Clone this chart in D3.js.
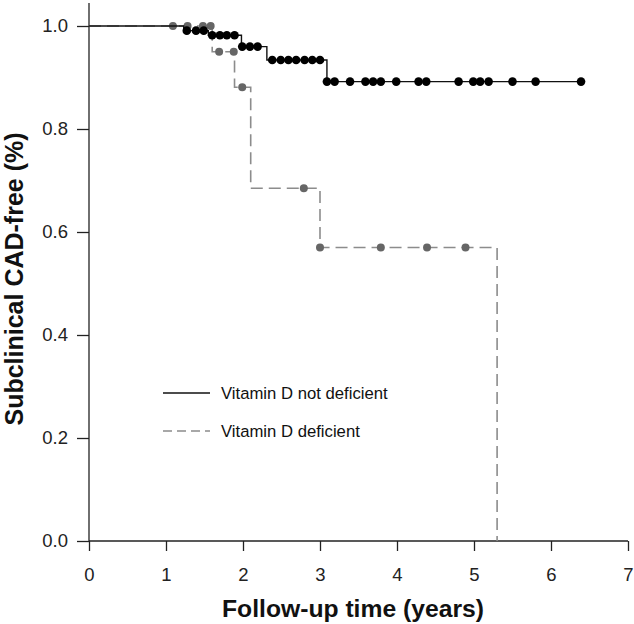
<!DOCTYPE html>
<html>
<head>
<meta charset="utf-8">
<script src="https://cdn.jsdelivr.net/npm/d3@7"></script>
<style>
  html, body { margin: 0; padding: 0; background: #fff; }
  svg { display: block; font-family: "Liberation Sans", Arial, sans-serif; }
</style>
</head>
<body>
<svg id="chart" width="634" height="624"></svg>
<script>
// ---- Data ----
const xTicks = [0, 1, 2, 3, 4, 5, 6, 7];
const yTicks = [0.0, 0.2, 0.4, 0.6, 0.8, 1.0];

// Vitamin D not deficient (solid black)
const notDefStepTimes = [0, 1.23, 1.55, 1.98, 2.31, 3.09];
const notDefStepSurv  = [1.0, 0.991, 0.982, 0.96, 0.934, 0.892];
const notDefEndTime = 6.39;
const notDefCensorTimes = [1.27, 1.39, 1.49, 1.60, 1.70, 1.79, 1.89, 1.99, 2.09, 2.19,
  2.38, 2.49, 2.59, 2.69, 2.80, 2.90, 3.00,
  3.09, 3.19, 3.39, 3.59, 3.69, 3.79, 3.99, 4.28, 4.38, 4.80, 4.99, 5.08, 5.19, 5.50, 5.80, 6.39];

// Vitamin D deficient (dashed gray)
const defStepTimes = [0, 1.60, 1.89, 2.10, 3.00, 5.30];
const defStepSurv  = [1.0, 0.95, 0.881, 0.685, 0.57, 0.0];
const defEndTime = 5.30;
const defCensorTimes = [1.09, 1.28, 1.48, 1.58, 1.69, 1.88, 1.99, 2.79, 3.00, 3.79, 4.39, 4.89];

const legendLabels = ["Vitamin D not deficient", "Vitamin D deficient"];

// ---- Helpers ----
function survivalAt(times, surv, t) {
  let s = surv[0];
  for (let i = 0; i < times.length; i++) if (times[i] <= t + 1e-9) s = surv[i];
  return s;
}
function stepPoints(times, surv, endT) {
  const pts = times.map((t, i) => [t, surv[i]]);
  pts.push([endT, surv[surv.length - 1]]);
  return pts;
}

// ---- Layout ----
const svg = d3.select("#chart");
const x = d3.scaleLinear().domain([0, 7]).range([89, 628]);
const y = d3.scaleLinear().domain([0, 1]).range([541, 26]);

const axisColor = "#222";

// Y axis
const yAxis = svg.append("g").attr("transform", "translate(89,0)")
  .call(d3.axisLeft(y).tickValues(yTicks).tickFormat(d3.format(".1f")).tickSize(12).tickSizeOuter(0));
yAxis.select(".domain").remove();
yAxis.selectAll(".tick line").attr("stroke", axisColor).attr("stroke-width", 1.3);
yAxis.selectAll(".tick text").attr("font-size", 18.5).attr("fill", axisColor)
  .attr("x", -21).attr("font-family", "Liberation Sans, Arial, sans-serif");
svg.append("line").attr("x1", 89).attr("x2", 89).attr("y1", 3).attr("y2", y(0))
  .attr("stroke", axisColor).attr("stroke-width", 1.3);

// X axis
const xAxis = svg.append("g").attr("transform", `translate(0,${y(0)})`)
  .call(d3.axisBottom(x).tickValues(xTicks).tickFormat(d3.format("d")).tickSize(10).tickSizeOuter(0));
xAxis.select(".domain").remove();
xAxis.selectAll(".tick line").attr("stroke", axisColor).attr("stroke-width", 1.3);
xAxis.selectAll(".tick text").attr("font-size", 18.5).attr("fill", axisColor)
  .attr("y", 27).attr("font-family", "Liberation Sans, Arial, sans-serif");
svg.append("line").attr("x1", 89).attr("x2", x(7)).attr("y1", y(0)).attr("y2", y(0))
  .attr("stroke", axisColor).attr("stroke-width", 1.3);

// Axis titles
svg.append("text").attr("x", 353).attr("y", 617).attr("text-anchor", "middle")
  .attr("font-size", 24.7).attr("font-weight", "bold").attr("fill", "#111")
  .text("Follow-up time (years)");
svg.append("text").attr("transform", "translate(23,279) rotate(-90)").attr("text-anchor", "middle")
  .attr("font-size", 25).attr("font-weight", "bold").attr("fill", "#111")
  .text("Subclinical CAD-free (%)");

const line = d3.line().x(d => x(d[0])).y(d => y(d[1])).curve(d3.curveStepAfter);

// Deficient curve (gray dashed)
svg.append("path").datum(stepPoints(defStepTimes, defStepSurv, defEndTime))
  .attr("d", line).attr("fill", "none").attr("stroke", "#8c8c8c")
  .attr("stroke-width", 1.6).attr("stroke-dasharray", "12,6");
svg.append("g").selectAll("circle").data(defCensorTimes).join("circle")
  .attr("cx", d => x(d)).attr("cy", d => y(survivalAt(defStepTimes, defStepSurv, d)))
  .attr("r", 4).attr("fill", "#666");

// Not deficient curve (solid black)
svg.append("path").datum(stepPoints(notDefStepTimes, notDefStepSurv, notDefEndTime))
  .attr("d", line).attr("fill", "none").attr("stroke", "#111").attr("stroke-width", 1.4);
svg.append("g").selectAll("circle").data(notDefCensorTimes).join("circle")
  .attr("cx", d => x(d)).attr("cy", d => y(survivalAt(notDefStepTimes, notDefStepSurv, d)))
  .attr("r", 4.3).attr("fill", "#000");

// Legend
const legend = svg.append("g");
legend.append("line").attr("x1", 163).attr("x2", 210).attr("y1", 393).attr("y2", 393)
  .attr("stroke", "#111").attr("stroke-width", 1.4);
legend.append("line").attr("x1", 163).attr("x2", 210).attr("y1", 431).attr("y2", 431)
  .attr("stroke", "#8c8c8c").attr("stroke-width", 1.4).attr("stroke-dasharray", "9,5");
legend.append("text").attr("x", 221).attr("y", 399).attr("font-size", 16.7).attr("fill", "#111")
  .text(legendLabels[0]);
legend.append("text").attr("x", 221).attr("y", 437).attr("font-size", 16.7).attr("fill", "#111")
  .text(legendLabels[1]);
</script>
</body>
</html>
